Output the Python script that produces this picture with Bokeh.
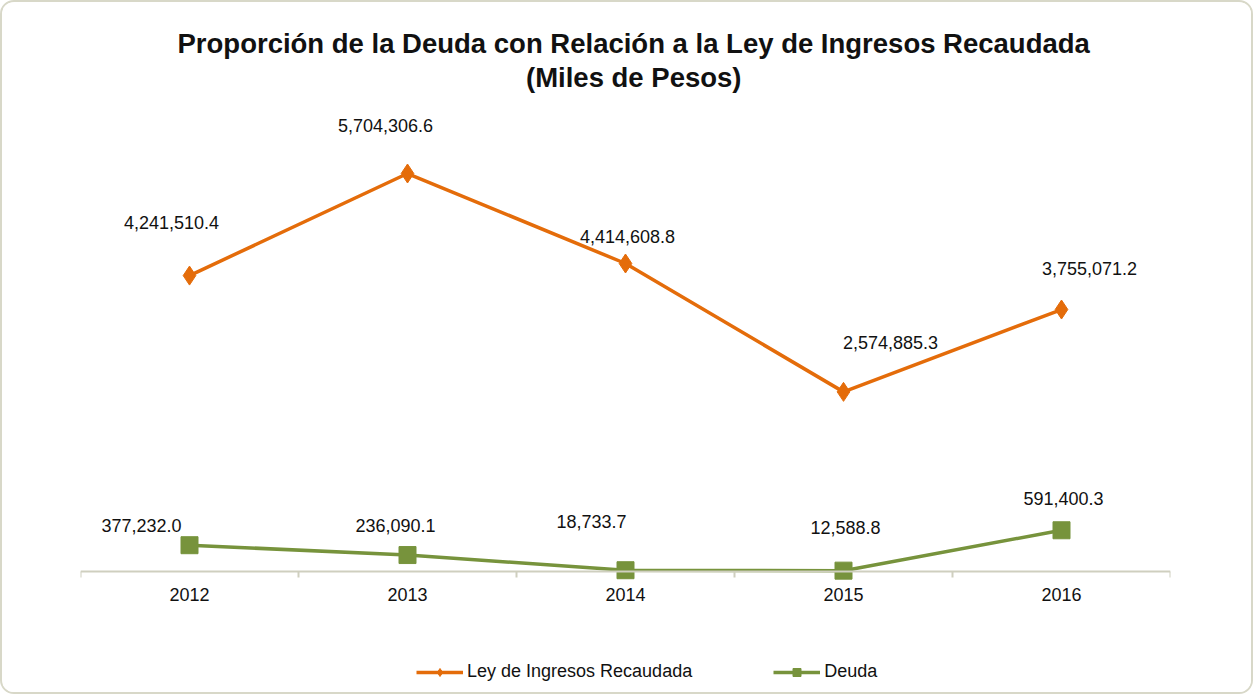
from bokeh.plotting import figure
from bokeh.models import (ColumnDataSource, Range1d, FixedTicker, Title, Legend, LegendItem)
from bokeh.embed import file_html
from bokeh.resources import INLINE
from bokeh.core.properties import value

# ---- data ----
years = [2012, 2013, 2014, 2015, 2016]
ley_ingresos = [4241510.4, 5704306.6, 4414608.8, 2574885.3, 3755071.2]
deuda = [377232.0, 236090.1, 18733.7, 12588.8, 591400.3]
year_labels = ["2012", "2013", "2014", "2015", "2016"]

# ---- styling (label offsets in screen px) ----
ley_dx = [-18, -22, 2, 47, 28]
ley_dy = [-53, -48, -27, -49, -41]
deu_dx = [-48, -12, -34, 2, 2]
deu_dy = [-20, -30, -49, -43, -32]

ORANGE = "#E46C0A"
GREEN = "#77933C"
AXIS = "#CFCFBF"
FONT = "Liberation Sans"

p = figure(width=1253, height=694, output_backend="svg", toolbar_location=None,
           x_range=Range1d(2011.5, 2016.5), y_range=Range1d(-1705000, 6836700),
           min_border_left=78, min_border_right=85, min_border_top=92, min_border_bottom=6)
p.styles = {"border": "2px solid #D8D8C8", "border-radius": "14px", "overflow": "hidden",
            "box-sizing": "border-box"}
p.outline_line_color = None
p.grid.visible = False
p.yaxis.visible = False
p.background_fill_color = "white"
p.border_fill_color = "white"

src_l = ColumnDataSource(dict(x=years, y=ley_ingresos,
                              t=[f"{v:,.1f}" for v in ley_ingresos], dx=ley_dx, dy=ley_dy))
src_d = ColumnDataSource(dict(x=years, y=deuda,
                              t=[f"{v:,.1f}" for v in deuda], dx=deu_dx, dy=deu_dy))

l1 = p.line("x", "y", source=src_l, line_color=ORANGE, line_width=3.5)
m1 = p.scatter("x", "y", source=src_l, marker="diamond", size=19,
               fill_color=ORANGE, line_color=ORANGE)
l2 = p.line("x", "y", source=src_d, line_color=GREEN, line_width=3.5)
m2 = p.scatter("x", "y", source=src_d, marker="square", size=17, fill_color=GREEN,
               line_color=GREEN)

for s in (src_l, src_d):
    p.text("x", "y", text="t", source=s, x_offset="dx", y_offset="dy",
           text_align="center", text_baseline="middle", text_font=value(FONT),
           text_font_size="18px", text_color="#111111")

ax = p.xaxis[0]
ax.fixed_location = 0
ax.ticker = FixedTicker(ticks=years, minor_ticks=[2011.5, 2012.5, 2013.5, 2014.5, 2015.5, 2016.5])
ax.major_label_overrides = {y: lab for y, lab in zip(years, year_labels)}
ax.axis_line_color = AXIS
ax.axis_line_width = 2
ax.major_tick_line_color = None
ax.major_tick_out = 0
ax.major_tick_in = 0
ax.minor_tick_line_color = AXIS
ax.minor_tick_line_width = 2
ax.minor_tick_out = 6
ax.minor_tick_in = 0
ax.major_label_standoff = 10
ax.major_label_text_font = FONT
ax.major_label_text_font_size = "18px"
ax.major_label_text_color = "#111111"

p.add_layout(Title(text="(Miles de Pesos)", align="left", text_font=FONT,
                   text_font_size="27.5px", text_font_style="bold", text_color="#111111",
                   offset=445.5, standoff=3), "above")
p.add_layout(Title(text="Proporción de la Deuda  con Relación a la Ley de  Ingresos Recaudada",
                   align="left", text_font=FONT, text_font_size="27.5px",
                   text_font_style="bold", text_color="#111111",
                   offset=97, standoff=0), "above")

legend = Legend(items=[LegendItem(label="Ley de Ingresos Recaudada", renderers=[l1, m1]),
                       LegendItem(label="Deuda", renderers=[l2, m2])],
                orientation="horizontal", location=(326, -2), spacing=81,
                glyph_width=47, glyph_height=20, label_standoff=4,
                label_text_font=FONT, label_text_font_size="18px", label_text_color="#111111",
                border_line_alpha=0, background_fill_alpha=0, padding=10)
p.add_layout(legend, "center")

open("out.html", "w").write(file_html(p, INLINE))
